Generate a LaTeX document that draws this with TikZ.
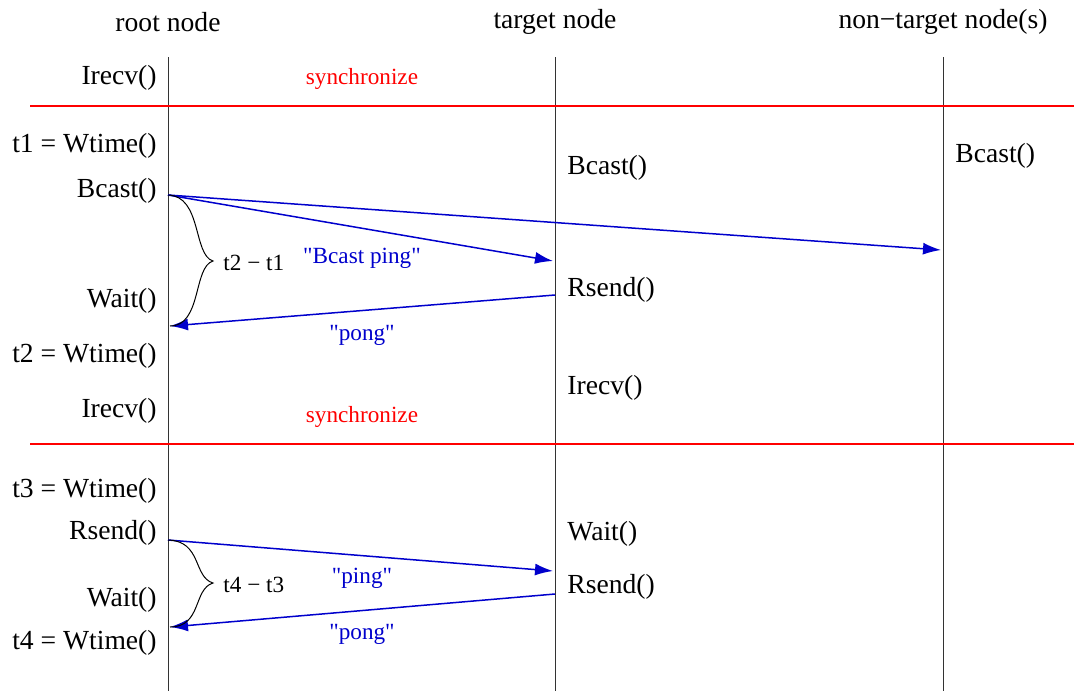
\documentclass[tikz,border=0pt]{standalone}
\usepackage{fontspec}
\setmainfont{Liberation Serif}
\usetikzlibrary{arrows.meta}
\definecolor{msgblue}{RGB}{0,0,204}
\definecolor{syncred}{RGB}{255,0,0}
\tikzset{
  call/.style={font=\fontsize{13.8}{16}\selectfont, inner sep=0pt},
  msg/.style={font=\fontsize{11.6}{14}\selectfont, text=msgblue, inner sep=0pt},
  sync/.style={font=\fontsize{11.6}{14}\selectfont, text=syncred, inner sep=0pt},
  lifeline/.style={line width=0.5pt, black!80},
  syncline/.style={line width=1pt, syncred},
  arrow/.style={line width=0.75pt, msgblue, -{Latex[length=9pt,width=6pt]}},
  span/.style={line width=0.5pt}
}
\newcommand{\qd}{\textquotedbl}
\begin{document}
\begin{tikzpicture}[x=0.5pt,y=-0.5pt]
	\useasboundingbox (0,0) rectangle (1074,691);
	\node[call] (root) at (168,22) {root node};
	\node[call] (target) at (555,22) {target node};
	\node[call] (other) at (943,22) {non−target node(s)};
	\foreach \n/\x in {root/168,target/555,other/943}
		\draw[lifeline] (\x,57) coordinate (\n-top) -- (\x,691) coordinate (\n-end);
	\draw[syncline] (30,106) coordinate (sync1-l) -- (1074,106) coordinate (sync1-r);
	\draw[syncline] (30,444) coordinate (sync2-l) -- (1074,444) coordinate (sync2-r);
	\node[sync] (sync1) at (362,79) {synchronize};
	\node[sync] (sync2) at (362,417) {synchronize};
	\node[call,anchor=east] (r-irecv1) at (157,78) {Irecv()};
	\node[call,anchor=east] (r-t1) at (157,146) {t1 = Wtime()};
	\node[call,anchor=east] (r-bcast) at (157,191) {Bcast()};
	\node[call,anchor=east] (r-wait1) at (157,301) {Wait()};
	\node[call,anchor=east] (r-t2) at (157,356) {t2 = Wtime()};
	\node[call,anchor=east] (r-irecv2) at (157,411) {Irecv()};
	\node[call,anchor=east] (r-t3) at (157,491) {t3 = Wtime()};
	\node[call,anchor=east] (r-rsend) at (157,533) {Rsend()};
	\node[call,anchor=east] (r-wait2) at (157,600) {Wait()};
	\node[call,anchor=east] (r-t4) at (157,643) {t4 = Wtime()};
	\node[call,anchor=west] (t-bcast) at (567,168) {Bcast()};
	\node[call,anchor=west] (t-rsend1) at (567,290) {Rsend()};
	\node[call,anchor=west] (t-irecv) at (567,388) {Irecv()};
	\node[call,anchor=west] (t-wait) at (567,534) {Wait()};
	\node[call,anchor=west] (t-rsend2) at (567,587) {Rsend()};
	\node[call,anchor=west] (o-bcast) at (955,156) {Bcast()};
	\coordinate (bcast-out) at (168,195);
	\coordinate (bcast-in) at (553,261);
	\coordinate (bcast-far) at (941,250);
	\coordinate (pong1-out) at (555,295);
	\coordinate (pong1-in) at (170,326);
	\coordinate (ping-out) at (168,540);
	\coordinate (ping-in) at (553,571);
	\coordinate (pong2-out) at (555,594);
	\coordinate (pong2-in) at (170,627);
	\draw[arrow] (bcast-out) -- (bcast-far);
	\draw[arrow] (bcast-out) -- (bcast-in);
	\draw[arrow] (pong1-out) -- (pong1-in);
	\draw[arrow] (ping-out) -- (ping-in);
	\draw[arrow] (pong2-out) -- (pong2-in);
	\node[msg] (bcast-ping) at (362,258) {\qd Bcast ping\qd};
	\node[msg] (pong1) at (362,335) {\qd pong\qd};
	\node[msg] (ping) at (362,578) {\qd ping\qd};
	\node[msg] (pong2) at (362,634) {\qd pong\qd};
	\coordinate (tip1) at (213,261);
	\coordinate (tip2) at (213,583);
	\draw[span] (bcast-out) .. controls (202,196) and (193,255) .. (tip1)
		.. controls (193,267) and (202,326) .. (pong1-in);
	\draw[span] (ping-out) .. controls (202,541) and (193,577) .. (tip2)
		.. controls (193,589) and (202,627) .. (pong2-in);
	\node[msg,text=black,anchor=west] (dt1) at (223,263) {t2 − t1};
	\node[msg,text=black,anchor=west] (dt2) at (223,585) {t4 − t3};
\end{tikzpicture}
\end{document}
